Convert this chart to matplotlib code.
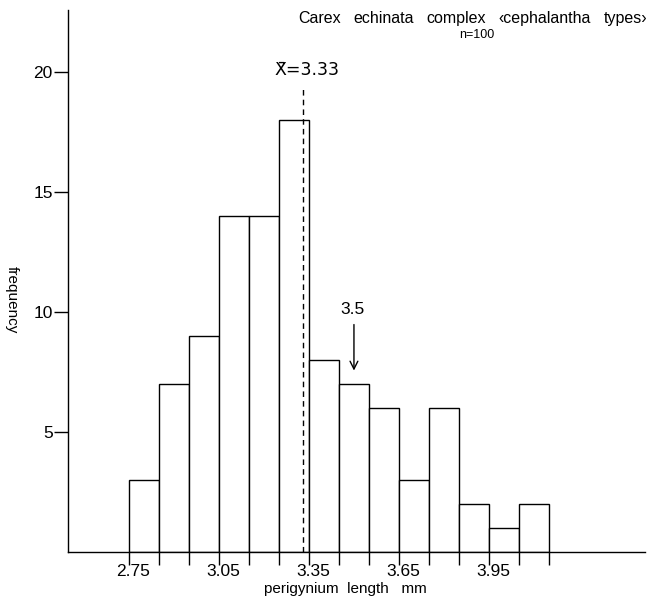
import matplotlib
matplotlib.use("Agg")
import matplotlib.pyplot as plt
import matplotlib.transforms as mtransforms
import numpy as np

# Perigynium length histogram, bins of 0.1 mm
bin_edges = [2.75, 2.85, 2.95, 3.05, 3.15, 3.25, 3.35, 3.45, 3.55,
             3.65, 3.75, 3.85, 3.95, 4.05, 4.15]
frequency = [3, 7, 9, 14, 14, 18, 8, 7, 6, 3, 6, 2, 1, 2]
x_tick_values = [2.75, 3.05, 3.35, 3.65, 3.95]
x_tick_labels = ["2.75", "3.05", "3.35", "3.65", "3.95"]
y_tick_values = [5, 10, 15, 20]
mean_value = 3.33
marker_value = 3.5
title_words = ["Carex", "echinata", "complex", "\u2039cephalantha", "types\u203a"]

plt.rcParams["font.family"] = ["Liberation Sans", "DejaVu Sans"]

W, H = 651, 598
fig = plt.figure(figsize=(W / 100, H / 100), dpi=100)
ax = fig.add_axes([68 / W, 46 / H, 577 / W, 542 / H])

lefts = np.array(bin_edges[:-1])
widths = np.diff(bin_edges)
ax.bar(lefts, frequency, width=widths, align="edge",
       facecolor="white", edgecolor="black", linewidth=1.0)

ax.set_xlim(2.547, 4.47)
ax.set_ylim(0, 22.6)

for side in ("top", "right"):
    ax.spines[side].set_visible(False)
ax.spines["left"].set_linewidth(1.0)
ax.spines["bottom"].set_linewidth(1.0)

ax.set_xticks(x_tick_values)
ax.set_xticklabels(x_tick_labels)
ax.set_xticks([e for e in bin_edges if e not in x_tick_values], minor=True)
ax.tick_params(axis="x", which="both", direction="out", length=9,
               width=1.0, labelsize=12.5, pad=0)
shift = mtransforms.ScaledTranslation(4.5 / 100, 0, fig.dpi_scale_trans)
for lbl in ax.get_xticklabels():
    lbl.set_transform(lbl.get_transform() + shift)

ax.set_yticks(y_tick_values)
ax.set_yticklabels([str(v) for v in y_tick_values])
ax.tick_params(axis="y", direction="out", length=10, width=1.0,
               labelsize=12.5, pad=1)

fig.text(345 / W, (H - 589) / H, "perigynium  length   mm",
         ha="center", va="center", fontsize=11)
fig.text(12 / W, (H - 300) / H, "frequency", ha="center",
         va="center", rotation=270, fontsize=11)

# Mean line
ax.plot([mean_value, mean_value], [0, 19.4], color="black", lw=1.0,
        linestyle=(0, (4, 3)))
ax.text(mean_value + 0.013, 20.1, "X\u0304=3.33", ha="center", va="center",
        fontsize=12.5, family=["DejaVu Sans"])

# Arrow marking 3.5
bar_top = frequency[bin_edges.index(3.45)]
ax.annotate("", xy=(marker_value, bar_top + 0.45),
            xytext=(marker_value, bar_top + 2.6),
            arrowprops=dict(arrowstyle="->", color="black", lw=1.0,
                            mutation_scale=14))
ax.text(marker_value - 0.005, bar_top + 2.8, "3.5", ha="center",
        va="bottom", fontsize=12.5)

# Title: words spread evenly across the heading's span
title_left, title_right = 298, 647
renderer = fig.canvas.get_renderer()
word_artists = [fig.text(0, (H - 23) / H, w, ha="left", va="baseline",
                         fontsize=11.5) for w in title_words]
word_widths = [a.get_window_extent(renderer).width for a in word_artists]
gap = (title_right - title_left - sum(word_widths)) / (len(title_words) - 1)
x = title_left
for a, w in zip(word_artists, word_widths):
    a.set_x(x / W)
    x += w + gap
fig.text(477 / W, (H - 38) / H, "n=100", ha="center", va="baseline",
         fontsize=9)

fig.savefig("out.png", dpi=100, facecolor="white")
